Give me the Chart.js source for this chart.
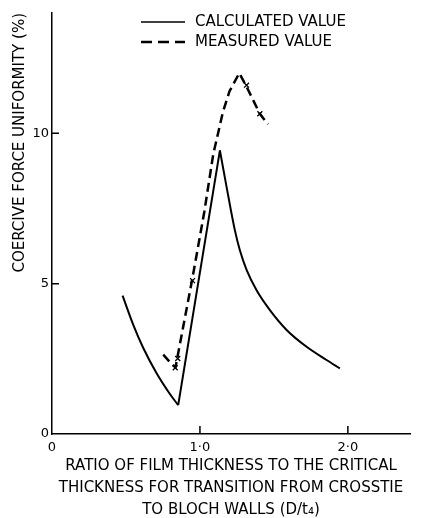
<!DOCTYPE html>
<html>
<head>
<meta charset="utf-8">
<script src="https://cdn.jsdelivr.net/npm/chart.js@4.4.1/dist/chart.umd.min.js"></script>
<style>
  html, body { margin: 0; padding: 0; background: #fff; }
</style>
</head>
<body>
<canvas id="chart" width="428" height="518"></canvas>
<script>
// Calculated value (solid line): falling branch, then a straight rise, then the second falling branch
const calcLeftX = [0.477, 0.55, 0.617, 0.707, 0.797, 0.853];
const calcLeftY = [4.6, 3.62, 2.86, 2.02, 1.33, 0.96];
const calcRightX = [1.135, 1.18, 1.236, 1.27, 1.316, 1.383, 1.473, 1.586, 1.721, 1.856, 1.946];
const calcRightY = [9.43, 8.22, 6.78, 6.11, 5.45, 4.78, 4.12, 3.46, 2.9, 2.46, 2.18];

// Measured value (dashed line)
const measX = [0.752, 0.81, 0.835, 0.95, 1.03, 1.09, 1.155, 1.20, 1.266, 1.315, 1.405, 1.46];
const measY = [2.64, 2.32, 2.22, 5.2, 7.4, 9.3, 10.7, 11.4, 12.0, 11.55, 10.65, 10.3];

// Measured points (x marks)
const markX = [0.85, 0.833, 0.95, 1.315, 1.405];
const markY = [2.51, 2.2, 5.1, 11.6, 10.65];

const xTicks = [0, 1, 2];
const xTickLabels = ['0', '1·0', '2·0'];
const yTicks = [0, 5, 10];
const yTickLabels = ['0', '5', '10'];

const legendLabels = ['CALCULATED VALUE', 'MEASURED VALUE'];
const yTitle = 'COERCIVE FORCE UNIFORMITY (%)';
const xTitle = [
  'RATIO OF FILM THICKNESS TO THE CRITICAL',
  'THICKNESS FOR TRANSITION FROM CROSSTIE',
  'TO BLOCH WALLS (D/t₄)'
];

const FONT = '"DejaVu Sans", sans-serif';

const toPoints = (xs, ys) => xs.map((x, i) => ({ x: x, y: ys[i] }));

const solid = {
  showLine: true,
  borderColor: '#000',
  borderWidth: 2,
  pointRadius: 0
};

// small ticks pointing into the plot
const innerTicks = {
  id: 'innerTicks',
  afterDatasetsDraw(chart) {
    const { ctx, chartArea } = chart;
    const x = chart.scales.x, y = chart.scales.y;
    ctx.save();
    ctx.strokeStyle = '#000';
    ctx.lineWidth = 1.5;
    ctx.beginPath();
    xTicks.filter(v => v > 0).forEach(v => {
      const px = x.getPixelForValue(v);
      ctx.moveTo(px, chartArea.bottom);
      ctx.lineTo(px, chartArea.bottom - 8);
    });
    yTicks.filter(v => v > 0).forEach(v => {
      const py = y.getPixelForValue(v);
      ctx.moveTo(chartArea.left, py);
      ctx.lineTo(chartArea.left + 7, py);
    });
    ctx.stroke();
    ctx.restore();
  }
};

// legend drawn inside the plot, one row per line
const lineLegend = {
  id: 'lineLegend',
  afterDraw(chart) {
    const ctx = chart.ctx;
    ctx.save();
    ctx.font = '15px ' + FONT;
    ctx.textBaseline = 'middle';
    ctx.fillStyle = '#000';
    ctx.strokeStyle = '#000';
    legendLabels.forEach((label, i) => {
      const yy = 22 + i * 20;
      ctx.lineWidth = i === 0 ? 1.5 : 2.5;
      ctx.setLineDash(i === 0 ? [] : [11, 6]);
      ctx.beginPath();
      ctx.moveTo(141, yy);
      ctx.lineTo(185, yy);
      ctx.stroke();
      ctx.setLineDash([]);
      ctx.fillText(label, 195, yy);
    });
    ctx.restore();
  }
};

new Chart(document.getElementById('chart'), {
  type: 'scatter',
  data: {
    datasets: [
      Object.assign({
        label: legendLabels[0],
        data: toPoints(calcLeftX, calcLeftY),
        cubicInterpolationMode: 'monotone'
      }, solid),
      Object.assign({
        label: legendLabels[0] + ' rise',
        data: [
          { x: calcLeftX[calcLeftX.length - 1], y: calcLeftY[calcLeftY.length - 1] },
          { x: calcRightX[0], y: calcRightY[0] }
        ],
        tension: 0
      }, solid),
      Object.assign({
        label: legendLabels[0] + ' fall',
        data: toPoints(calcRightX, calcRightY),
        cubicInterpolationMode: 'monotone'
      }, solid),
      {
        label: legendLabels[1],
        data: toPoints(measX, measY),
        showLine: true,
        borderColor: '#000',
        borderWidth: 2.5,
        borderDash: [9, 5],
        pointRadius: 0,
        tension: 0
      },
      {
        label: 'points',
        data: toPoints(markX, markY),
        showLine: false,
        pointStyle: 'crossRot',
        pointRadius: 3.5,
        borderColor: '#000',
        borderWidth: 1.3
      }
    ]
  },
  options: {
    responsive: false,
    animation: false,
    devicePixelRatio: 1,
    layout: {
      padding: { top: 13, right: 18, left: 0, bottom: 0 }
    },
    scales: {
      x: {
        type: 'linear',
        min: 0,
        max: 2.42,
        afterBuildTicks: (scale) => { scale.ticks = xTicks.map(v => ({ value: v })); },
        afterFit: (scale) => { scale.height = 84; },
        grid: { drawOnChartArea: false, drawTicks: false },
        border: { display: true, color: '#000', width: 1.5 },
        ticks: {
          padding: 6,
          color: '#000',
          font: { family: FONT, size: 13 },
          maxRotation: 0,
          callback: (v) => xTickLabels[xTicks.indexOf(v)]
        },
        title: {
          display: true,
          text: xTitle,
          color: '#000',
          font: { family: FONT, size: 15, lineHeight: '22px' },
          padding: { top: 0, bottom: -3 }
        }
      },
      y: {
        type: 'linear',
        min: 0,
        max: 14,
        afterBuildTicks: (scale) => { scale.ticks = yTicks.map(v => ({ value: v })); },
        afterFit: (scale) => { scale.width = 52; },
        grid: { drawOnChartArea: false, drawTicks: false },
        border: { display: true, color: '#000', width: 1.5 },
        ticks: {
          padding: 3,
          color: '#000',
          font: { family: FONT, size: 13 },
          callback: (v) => yTickLabels[yTicks.indexOf(v)]
        },
        title: {
          display: true,
          text: yTitle,
          align: 'end',
          color: '#000',
          font: { family: FONT, size: 15 },
          padding: { top: 11, bottom: 0 }
        }
      }
    },
    plugins: {
      legend: { display: false },
      tooltip: { enabled: false }
    }
  },
  plugins: [innerTicks, lineLegend]
});
</script>
</body>
</html>
